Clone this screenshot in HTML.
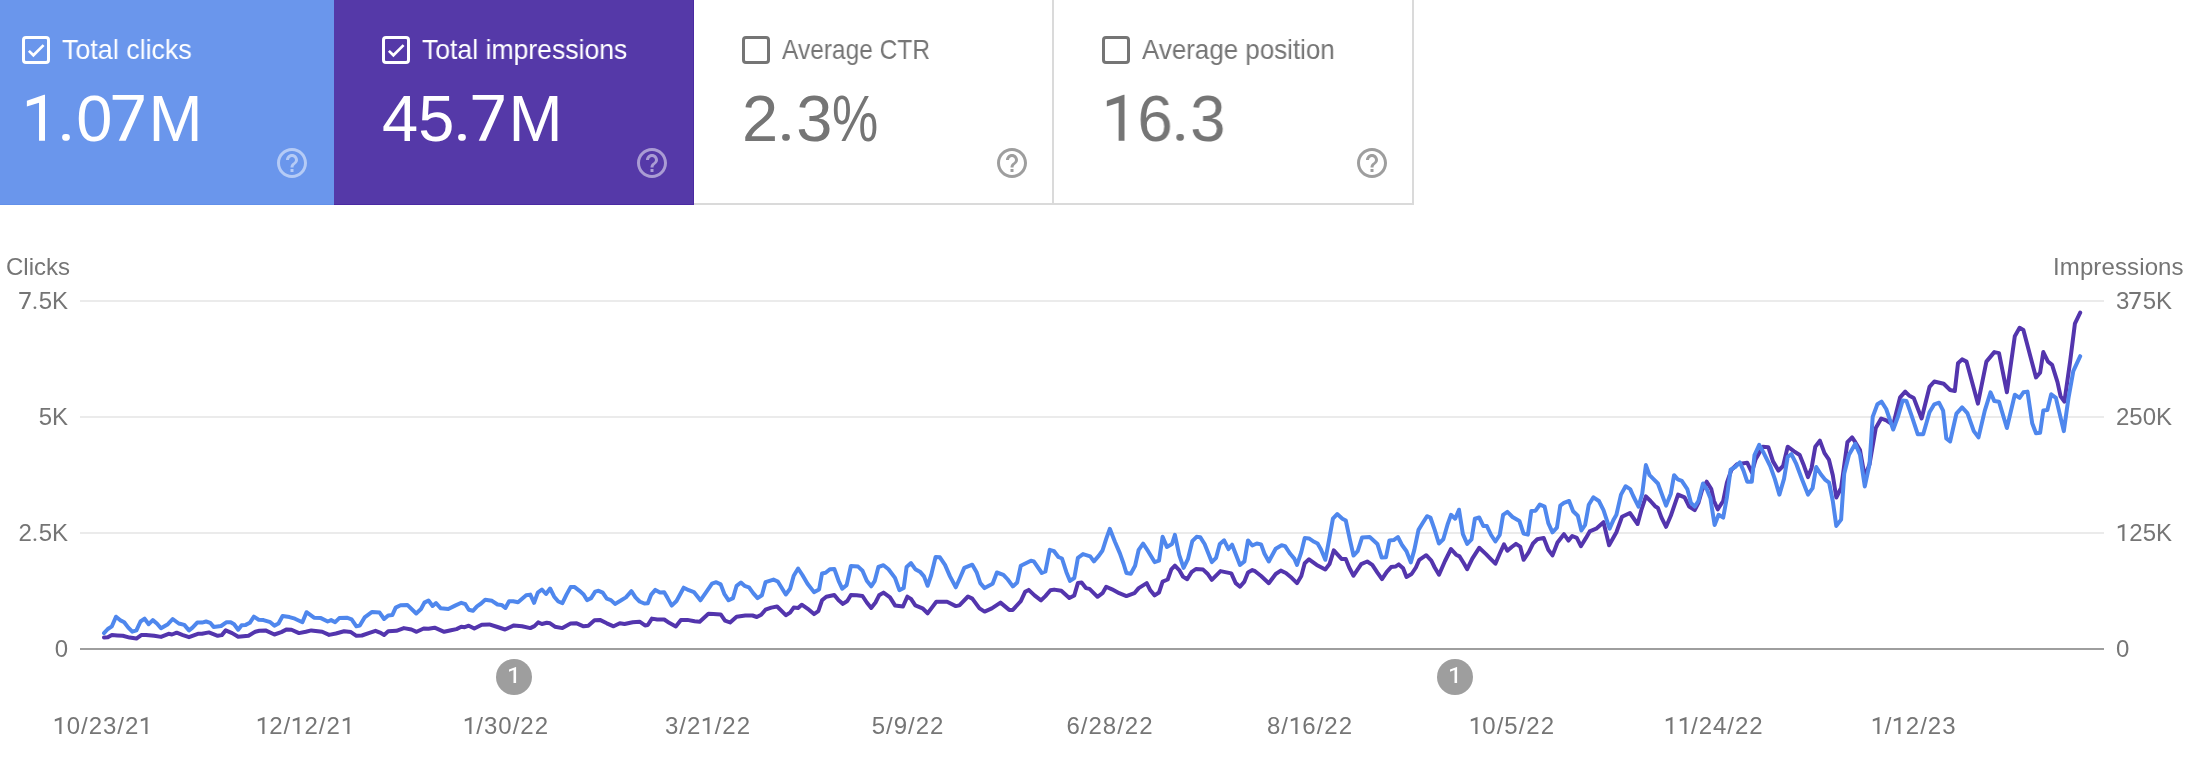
<!DOCTYPE html>
<html><head><meta charset="utf-8"><style>
html,body{margin:0;padding:0;background:#fff;width:2196px;height:760px;overflow:hidden;position:relative;font-family:"Liberation Sans",sans-serif;}
.card{position:absolute;top:0;width:360px;height:205px;box-sizing:border-box;}
.c1{background:#6a96ec;color:#fff;border-bottom:1px solid #6290ea;}
.c2{background:#5539a8;color:#fff;border-bottom:1px solid #4a2aa2;border-right:1px solid #4a2aa2;}
.c3,.c4{background:#fff;color:#757575;border-right:2px solid #dadada;border-bottom:2px solid #dadada;}
.cb{position:absolute;left:48px;top:36px;width:28px;height:28px;box-sizing:border-box;border:3px solid #fff;border-radius:4px;}
.c3 .cb,.c4 .cb{border-color:#757575;}
.tick{position:absolute;left:-3px;top:-3px;}
.lbl{position:absolute;left:88px;top:34px;font-size:28px;line-height:32px;white-space:nowrap;transform-origin:0 0;}
.val{position:absolute;left:48px;top:83.5px;font-size:65px;line-height:70px;white-space:nowrap;transform-origin:0 0;}
.help{position:absolute;left:300px;top:145px;}
.c1 .help,.c2 .help{fill:rgba(255,255,255,.5);}
.c3 .help,.c4 .help{fill:#9e9e9e;}
.t{position:absolute;color:#757575;font-size:24px;line-height:28px;white-space:nowrap;}
.yl{position:absolute;left:0;width:68px;text-align:right;color:#757575;font-size:24px;line-height:28px;}
.yr{position:absolute;left:2116px;color:#757575;font-size:24px;line-height:28px;}
.xl{position:absolute;top:712px;width:200px;text-align:center;letter-spacing:1px;color:#757575;font-size:24px;line-height:28px;}
.mk{position:absolute;width:36px;height:36px;border-radius:50%;background:#9e9e9e;color:#fff;font-size:20px;line-height:36px;text-align:center;}
div{will-change:transform;}
.one{width:0.556em;height:0.75em;fill:currentColor;vertical-align:baseline;}
.dot{width:0.278em;height:0.75em;fill:currentColor;vertical-align:baseline;}
.pct{display:inline-block;transform:scaleX(0.8);transform-origin:0 0;}
</style></head><body>
<div class="card c1" style="left:-26px">
<div class="cb"><svg class="tick" viewBox="0 0 28 28" width="28" height="28"><path d="M6.9 14.9 L11.4 19.3 L21.6 9.1" fill="none" stroke="#fff" stroke-width="2.7"/></svg></div>
<div class="lbl" style="transform:scaleX(0.959)">Total clicks</div>
<div class="val" style="transform:scaleX(0.998)"><svg class="one" viewBox="0 0 556 750"><path d="M75 133L340 44L354 44L354 750L262 750L262 164L75 224Z"/></svg><svg class="dot" viewBox="0 0 278 750"><rect x="64" y="645" width="118" height="105" rx="48"/></svg>0<svg class="one" viewBox="0 0 556 750"><path d="M10 45L488 45L488 124L210 750L104 750L393 121L10 121Z"/></svg>M</div>
<svg class="help" viewBox="0 0 24 24" width="36" height="36"><path d="M11 18h2v-2h-2v2zm1-16C6.48 2 2 6.48 2 12s4.48 10 10 10 10-4.48 10-10S17.52 2 12 2zm0 18c-4.41 0-8-3.59-8-8s3.59-8 8-8 8 3.59 8 8-3.59 8-8 8zm0-14c-2.21 0-4 1.79-4 4h2c0-1.1.9-2 2-2s2 .9 2 2c0 2-3 1.75-3 5h2c0-2.25 3-2.5 3-5 0-2.21-1.79-4-4-4z"/></svg>
</div><div class="card c2" style="left:334px">
<div class="cb"><svg class="tick" viewBox="0 0 28 28" width="28" height="28"><path d="M6.9 14.9 L11.4 19.3 L21.6 9.1" fill="none" stroke="#fff" stroke-width="2.7"/></svg></div>
<div class="lbl" style="transform:scaleX(0.949)">Total impressions</div>
<div class="val" style="transform:scaleX(0.999)">45<svg class="dot" viewBox="0 0 278 750"><rect x="64" y="645" width="118" height="105" rx="48"/></svg><svg class="one" viewBox="0 0 556 750"><path d="M10 45L488 45L488 124L210 750L104 750L393 121L10 121Z"/></svg>M</div>
<svg class="help" viewBox="0 0 24 24" width="36" height="36"><path d="M11 18h2v-2h-2v2zm1-16C6.48 2 2 6.48 2 12s4.48 10 10 10 10-4.48 10-10S17.52 2 12 2zm0 18c-4.41 0-8-3.59-8-8s3.59-8 8-8 8 3.59 8 8-3.59 8-8 8zm0-14c-2.21 0-4 1.79-4 4h2c0-1.1.9-2 2-2s2 .9 2 2c0 2-3 1.75-3 5h2c0-2.25 3-2.5 3-5 0-2.21-1.79-4-4-4z"/></svg>
</div><div class="card c3" style="left:694px">
<div class="cb"></div>
<div class="lbl" style="transform:scaleX(0.875)">Average CTR</div>
<div class="val" style="transform:scaleX(1)">2<svg class="dot" viewBox="0 0 278 750"><rect x="64" y="645" width="118" height="105" rx="48"/></svg>3<span class="pct">%</span></div>
<svg class="help" viewBox="0 0 24 24" width="36" height="36"><path d="M11 18h2v-2h-2v2zm1-16C6.48 2 2 6.48 2 12s4.48 10 10 10 10-4.48 10-10S17.52 2 12 2zm0 18c-4.41 0-8-3.59-8-8s3.59-8 8-8 8 3.59 8 8-3.59 8-8 8zm0-14c-2.21 0-4 1.79-4 4h2c0-1.1.9-2 2-2s2 .9 2 2c0 2-3 1.75-3 5h2c0-2.25 3-2.5 3-5 0-2.21-1.79-4-4-4z"/></svg>
</div><div class="card c4" style="left:1054px">
<div class="cb"></div>
<div class="lbl" style="transform:scaleX(0.926)">Average position</div>
<div class="val" style="transform:scaleX(0.977)"><svg class="one" viewBox="0 0 556 750"><path d="M75 133L340 44L354 44L354 750L262 750L262 164L75 224Z"/></svg>6<svg class="dot" viewBox="0 0 278 750"><rect x="64" y="645" width="118" height="105" rx="48"/></svg>3</div>
<svg class="help" viewBox="0 0 24 24" width="36" height="36"><path d="M11 18h2v-2h-2v2zm1-16C6.48 2 2 6.48 2 12s4.48 10 10 10 10-4.48 10-10S17.52 2 12 2zm0 18c-4.41 0-8-3.59-8-8s3.59-8 8-8 8 3.59 8 8-3.59 8-8 8zm0-14c-2.21 0-4 1.79-4 4h2c0-1.1.9-2 2-2s2 .9 2 2c0 2-3 1.75-3 5h2c0-2.25 3-2.5 3-5 0-2.21-1.79-4-4-4z"/></svg>
</div>
<div class="t" style="left:6px;top:253px">Clicks</div>
<div class="t" style="left:2052.5px;top:253px;letter-spacing:0.12px">Impressions</div>
<div class="yl" style="top:287px"><svg class="one" viewBox="0 0 556 750"><path d="M10 45L488 45L488 124L210 750L104 750L393 121L10 121Z"/></svg><svg class="dot" viewBox="0 0 278 750"><rect x="64" y="645" width="118" height="105" rx="48"/></svg>5K</div><div class="yr" style="top:287px">3<svg class="one" viewBox="0 0 556 750"><path d="M10 45L488 45L488 124L210 750L104 750L393 121L10 121Z"/></svg>5K</div>
<div class="yl" style="top:403px">5K</div><div class="yr" style="top:403px">250K</div>
<div class="yl" style="top:519px">2<svg class="dot" viewBox="0 0 278 750"><rect x="64" y="645" width="118" height="105" rx="48"/></svg>5K</div><div class="yr" style="top:519px"><svg class="one" viewBox="0 0 556 750"><path d="M75 133L340 44L354 44L354 750L262 750L262 164L75 224Z"/></svg>25K</div>
<div class="yl" style="top:635px">0</div><div class="yr" style="top:635px">0</div>

<div class="xl" style="left:3px"><svg class="one" viewBox="0 0 556 750"><path d="M75 133L340 44L354 44L354 750L262 750L262 164L75 224Z"/></svg>0/23/2<svg class="one" viewBox="0 0 556 750"><path d="M75 133L340 44L354 44L354 750L262 750L262 164L75 224Z"/></svg></div>
<div class="xl" style="left:205px"><svg class="one" viewBox="0 0 556 750"><path d="M75 133L340 44L354 44L354 750L262 750L262 164L75 224Z"/></svg>2/<svg class="one" viewBox="0 0 556 750"><path d="M75 133L340 44L354 44L354 750L262 750L262 164L75 224Z"/></svg>2/2<svg class="one" viewBox="0 0 556 750"><path d="M75 133L340 44L354 44L354 750L262 750L262 164L75 224Z"/></svg></div>
<div class="xl" style="left:406px"><svg class="one" viewBox="0 0 556 750"><path d="M75 133L340 44L354 44L354 750L262 750L262 164L75 224Z"/></svg>/30/22</div>
<div class="xl" style="left:608px">3/2<svg class="one" viewBox="0 0 556 750"><path d="M75 133L340 44L354 44L354 750L262 750L262 164L75 224Z"/></svg>/22</div>
<div class="xl" style="left:808px">5/9/22</div>
<div class="xl" style="left:1010px">6/28/22</div>
<div class="xl" style="left:1210px">8/<svg class="one" viewBox="0 0 556 750"><path d="M75 133L340 44L354 44L354 750L262 750L262 164L75 224Z"/></svg>6/22</div>
<div class="xl" style="left:1412px"><svg class="one" viewBox="0 0 556 750"><path d="M75 133L340 44L354 44L354 750L262 750L262 164L75 224Z"/></svg>0/5/22</div>
<div class="xl" style="left:1614px"><svg class="one" viewBox="0 0 556 750"><path d="M75 133L340 44L354 44L354 750L262 750L262 164L75 224Z"/></svg><svg class="one" viewBox="0 0 556 750"><path d="M75 133L340 44L354 44L354 750L262 750L262 164L75 224Z"/></svg>/24/22</div>
<div class="xl" style="left:1814px"><svg class="one" viewBox="0 0 556 750"><path d="M75 133L340 44L354 44L354 750L262 750L262 164L75 224Z"/></svg>/<svg class="one" viewBox="0 0 556 750"><path d="M75 133L340 44L354 44L354 750L262 750L262 164L75 224Z"/></svg>2/23</div>

<svg width="2196" height="760" style="position:absolute;left:0;top:0">
<g stroke="#ebebeb" stroke-width="2">
<line x1="80" y1="301" x2="2104" y2="301"/><line x1="80" y1="417" x2="2104" y2="417"/><line x1="80" y1="533" x2="2104" y2="533"/>
</g>
<line x1="80" y1="649" x2="2104" y2="649" stroke="#9e9e9e" stroke-width="2"/>
<path d="M104 637.4 L107.8 637.2 L111.9 634.9 L117.3 635.4 L122.8 635.8 L129.6 637.6 L136.4 638.6 L141.2 635.1 L146 634.9 L154.2 635.8 L161 636.9 L168.6 633.8 L172 634.5 L176.7 632.7 L182.9 635.1 L189 637.2 L197.9 633.8 L202 633.8 L208.9 632.4 L217.7 635.8 L221.8 635.1 L225.7 630.4 L232.1 633.1 L238.2 636.8 L248.5 635.8 L255.3 631.7 L259.4 630.8 L265.5 630.4 L274.4 634.5 L281.3 632.1 L286.7 629.4 L291.5 629.7 L299 633.1 L305.8 631.7 L311.3 630.4 L322.2 631.7 L329.1 634.9 L335.9 633.5 L344.1 631.3 L350.9 632.1 L356.4 635.8 L361.9 635.5 L368.7 633.1 L375.5 630.8 L380 632.6 L384.1 634.9 L388.2 631.3 L396.4 630.8 L403.9 628.1 L411.4 629.5 L416.6 631.8 L423.7 628.5 L428.5 628.8 L434.6 627.7 L444.2 631.8 L451 630.2 L456.5 629.1 L461.3 626.7 L464.7 627.2 L468.8 625.7 L474.3 628.5 L481.8 624.7 L489.3 624.4 L497.5 627 L505 629.5 L513.9 625.4 L522.1 626.3 L530.3 628.1 L534.4 626.1 L538.2 622.4 L541.9 624 L546.7 622.7 L550.1 623.3 L554.9 626.7 L562.4 628.1 L570.6 623.6 L576.7 623.3 L583.6 626.3 L588.3 625.8 L594.5 620.3 L599.9 619.9 L606.8 623.3 L613.6 626.3 L619.8 623.3 L624.5 624 L632.7 622.2 L639.6 621.7 L645 625.4 L647.8 625 L651.9 618.6 L657.3 619.5 L664.2 619.5 L669.6 623.1 L675.8 626.4 L680.9 620.1 L687.4 619.9 L694.6 621.3 L699.7 621.7 L708.4 613.8 L713.4 614.1 L720.7 614.4 L725 620.6 L730.1 622.5 L736.6 616.7 L745.3 615.5 L752.5 615.5 L756.8 617 L761.2 614.8 L765.5 609.7 L771.3 607.6 L777.1 606.5 L785.8 615.2 L790.1 612.6 L793.7 607.6 L798.1 608 L801.7 604.7 L808.9 609.7 L814 614.1 L818.3 611.2 L822 600.3 L826.3 596.7 L834.3 595 L838.6 600.3 L842.9 603.9 L847.3 601 L850.9 595 L856.7 595.3 L862.5 596 L866.8 602.5 L871.2 608 L875.5 602.5 L879.1 595.3 L883.5 592.6 L890 597.4 L895 605.4 L903 606.5 L907.3 596.7 L911 598.9 L915.3 605.4 L922.5 608.3 L927.6 613.3 L931.9 607.6 L936.3 601.8 L947.1 601.8 L955.8 606.1 L959.4 605.4 L968 596.5 L972.3 598.6 L979.5 608.4 L984.6 611.6 L991.8 608.4 L1000.5 602.6 L1009.2 609.9 L1012.8 609.9 L1020.8 601.2 L1025.1 591.8 L1028.7 589.9 L1034.5 595.4 L1041 600.4 L1045.4 596.1 L1050.4 590.3 L1054.1 589.6 L1061.3 590.8 L1069.3 598 L1074.3 595.4 L1077.9 583.1 L1081.6 582.6 L1085.9 588.1 L1089.5 588.9 L1097.5 596.8 L1102.5 593.2 L1106.2 586.7 L1112 589.3 L1119.2 593.2 L1126.4 596.1 L1134.4 593.2 L1138.7 588.1 L1146.7 583.1 L1150.3 590.3 L1154.6 595.4 L1159 592.5 L1162.6 581.6 L1167.7 579.5 L1171.3 569.3 L1174.9 565.7 L1179.2 570.1 L1182.9 576.6 L1187.2 579.2 L1191.5 572.2 L1195.9 569 L1203.1 569.6 L1207.5 573.7 L1211.8 579.8 L1220.5 571.1 L1231.3 573.4 L1235.7 583.1 L1240 586.7 L1244.4 581.6 L1248 572.5 L1252.3 570.1 L1255.1 571.2 L1261.1 576 L1268.8 583.2 L1275.7 574 L1280.8 570.6 L1285.9 573 L1291.9 578.1 L1297 583.2 L1301.3 576 L1304.7 563.2 L1309 559.3 L1316.7 564.9 L1325.3 569.5 L1329.5 564.1 L1333.8 550.4 L1341.5 558.9 L1345.8 558.9 L1349.2 567.5 L1353.5 575.7 L1361.2 564.1 L1367.2 561.5 L1372.3 564.9 L1377.4 572.6 L1382 579.1 L1386.8 571.8 L1391.1 567.1 L1395.4 566.6 L1398.8 564.4 L1403.1 568.3 L1406.5 576.9 L1411.6 574 L1415.9 567.5 L1419.3 559.8 L1426.2 555.2 L1431.3 560.6 L1434.7 567.5 L1439 574.7 L1445 561 L1451 549 L1456.1 554.7 L1459.5 556.4 L1463.8 563.2 L1467.2 569.2 L1472.3 558.6 L1479.2 547.8 L1486 554.1 L1491.1 559.3 L1495.4 563.7 L1499.7 553.8 L1504 544.4 L1507.4 550.7 L1511.7 547 L1516 543.9 L1520.2 546.6 L1523.6 559.8 L1528.8 552.1 L1533 543.5 L1537.3 539.3 L1543.7 537.9 L1548.3 549.8 L1552.5 555.4 L1557.5 542.5 L1563.9 534.2 L1568.5 540.6 L1572.2 536 L1576.8 537.9 L1580.9 546.2 L1586 537.9 L1589.7 531.4 L1596.2 528.7 L1603.5 522.2 L1609.1 545.2 L1616.4 532.3 L1622 516.7 L1629.9 513 L1637.6 524 L1641.3 510.2 L1645.9 496.4 L1650.5 501 L1655.1 506.2 L1657.9 508 L1661.5 517.6 L1666.1 526.8 L1670.8 515.8 L1678.1 494.6 L1684.6 497.3 L1689.2 506.6 L1694.7 510.2 L1698.4 502.9 L1702.1 490 L1706.7 481.7 L1711.3 489.1 L1714 501 L1717.7 509.3 L1723.2 501 L1726.9 482.6 L1731.5 469.7 L1737.1 464.2 L1747.2 462.7 L1751.8 472.5 L1755.5 459.6 L1762.8 446.7 L1768.4 447.3 L1773 461.4 L1778.5 470.6 L1783.1 466 L1787.7 446.7 L1794.1 451.3 L1799.7 455 L1803.4 464.2 L1808 477.1 L1811.6 467.9 L1815.3 446.7 L1819.9 440.6 L1824.5 453.1 L1828.9 459.6 L1832.8 475.2 L1836.3 497.5 L1841.1 488 L1847.4 442.2 L1852.1 437.4 L1855.3 442.2 L1860 450.1 L1864.8 476.9 L1869.5 464.3 L1875.8 428 L1881.2 418.5 L1886.9 420.7 L1893.2 424.8 L1900.1 397.3 L1905.2 391.6 L1909 395.4 L1913.7 397.9 L1921.6 418.5 L1929.5 386.9 L1934.3 381.5 L1943.7 383.7 L1950.1 390 L1954.8 391 L1958 363.2 L1962.1 359.4 L1966.5 361.6 L1977.9 403.6 L1986.4 361.6 L1994.3 352.1 L1999 353.1 L2006.9 392.3 L2014.8 336.3 L2019.6 327.8 L2023.4 330 L2032.2 363.2 L2036 377.4 L2040.1 372.7 L2043.3 352.1 L2048 361.6 L2052.1 364.8 L2057.5 382.1 L2060.6 396.4 L2064.4 401.7 L2070.1 361.6 L2074.9 323.7 L2080.2 312.6" fill="none" stroke="#5335ad" stroke-width="4" stroke-linejoin="round" stroke-linecap="round"/>
<path d="M104 633.1 L107.8 629 L111.9 626.3 L116 616.7 L120 620.1 L124.2 622.2 L128.3 627.6 L132.3 631.7 L136.4 630.4 L140.5 621.5 L144.6 618.7 L148.7 624.2 L152.8 620.1 L156.9 623.5 L161 628.3 L167.9 624.2 L172.7 619 L178.8 623.5 L184.3 624.9 L189 630.4 L192.5 627.6 L197.2 622.6 L202 622.6 L206.1 621.5 L210.2 622.8 L213.6 626.9 L221.1 626 L226.6 622.2 L230.7 622.2 L234.1 624.2 L238.2 629.7 L241.6 625.3 L245.7 624.9 L249.8 622.8 L253.9 616.7 L258.7 619.7 L263.5 620.1 L270.3 622.2 L274.4 625.6 L278.5 623.5 L282.6 616 L289.5 617.1 L294.9 618.7 L302.4 622.2 L306.5 612.2 L314 617.7 L320.9 618.1 L327.7 621.5 L331.1 620.1 L335.2 622.2 L339.3 618.1 L346.8 617.7 L351.6 619.4 L356.4 626.3 L359.8 625.6 L364.6 617.4 L372.1 611.9 L379.6 612.6 L384.1 619 L388.2 615.4 L392.3 615.1 L395.7 607.6 L400.5 605.3 L407.3 604.9 L416.2 613.5 L421 609 L424.4 602.6 L428.5 600.5 L432.6 606 L436 603.1 L440.8 608.3 L448.3 609 L455.1 605.6 L461.3 602.8 L465.4 604.2 L468.8 609.7 L472.9 610.8 L477 606.3 L481.1 603.5 L485.2 599.8 L492 600.8 L497.5 604.5 L501.6 604.9 L505.4 608 L509.1 601.2 L513.2 601.2 L518 602.2 L522.1 598.7 L526.2 595.3 L530.3 594.6 L534.1 602.8 L537.8 592.6 L541.9 589.5 L546 594 L550.1 588.5 L554.2 596.7 L558.3 601.5 L562.4 603.1 L566.5 594.6 L570.6 587.1 L574.7 587.1 L579.5 590.8 L583.6 594.4 L587 600.1 L591.1 598.1 L595.2 591.6 L598.6 590.8 L602.7 592.6 L606.8 598.7 L610.9 600.1 L615 603.9 L620.4 600.8 L625.9 597.4 L631.4 591.2 L635.5 597.4 L639.6 601.5 L644.3 603.5 L647.8 603.3 L651.2 594.6 L655.3 589.9 L660 592.6 L664.2 592.2 L667.6 598.1 L671.7 605.6 L676.5 601 L683.7 587.7 L688.8 590.2 L693.9 592.1 L700.4 600.3 L705.5 593.1 L712 583.7 L716.3 582.2 L720.7 584.4 L724.3 593.8 L728.6 600.3 L733 598.1 L736.6 585.8 L740.9 582.5 L744.5 585.8 L748.9 587.3 L753.2 593.1 L757.6 598.1 L761.9 595.3 L765.5 582.2 L773.5 579.6 L777.8 581.5 L785.8 594.5 L790.1 588.7 L793.7 575.7 L798.1 568.5 L802.4 575 L807.5 583.7 L814 592.1 L819.1 589.5 L822 573.5 L825.6 572.8 L829.9 569.2 L834.3 568.9 L838.6 580.8 L842.2 588.7 L846.6 585.1 L850.9 566 L858.1 566.6 L862.5 570.7 L866.8 580.8 L871.2 586.3 L874.8 580.8 L878.4 567 L883.5 565.2 L888.5 569.2 L895 577.9 L899.4 590.2 L903.7 588 L906.6 567 L911 563.1 L915.3 569.2 L920.4 572.1 L924 576.4 L927.6 585.8 L931.2 575 L935.6 556.9 L939.9 557.3 L945 564.9 L950 576.4 L955.8 587.3 L959.4 579.3 L964.3 567.9 L972.3 564.7 L976.6 572.2 L980.3 583.1 L984.6 588.1 L992.6 583.8 L996.9 572.5 L1003.4 574.8 L1007.8 579.5 L1012.8 586.4 L1017.2 582.4 L1020.8 565.7 L1030.9 560.7 L1033.8 561.4 L1041.8 573 L1045.4 571.5 L1049.7 549.8 L1054.1 551.2 L1058.4 557 L1062 558.5 L1066.4 572.2 L1070 580.9 L1074.3 578 L1077.9 557.8 L1083 554.1 L1090.2 556.3 L1093.9 561.4 L1098.9 555.6 L1102.5 550.5 L1106.2 538.9 L1109.8 528.8 L1114.9 541.8 L1119.9 553.4 L1123.5 563.5 L1126.4 573 L1130.8 573.7 L1135.1 565.7 L1138.7 549.8 L1143.1 543.6 L1148.1 551.2 L1154.6 562.1 L1159 560.7 L1162.6 536.8 L1166.9 546.9 L1172 544 L1174.9 534.9 L1179.2 554.9 L1183.6 567.9 L1187.9 559.2 L1192.3 541.1 L1196.6 536.8 L1200.2 537.2 L1204.6 544 L1211.8 562.1 L1216.1 557.8 L1219.8 544 L1224.1 540.4 L1228.5 549.1 L1232.1 544.7 L1240 565 L1244.4 561.4 L1248 540.4 L1252.3 545.5 L1256.8 543.5 L1261.1 544.4 L1264.5 553.8 L1268.8 561.5 L1275.7 548.7 L1281.6 545.3 L1285.1 546.1 L1290.2 553.8 L1294.5 558.9 L1297 564.9 L1301.3 552.1 L1304.7 538.1 L1309 538.4 L1314.1 541.8 L1317.6 543.5 L1321 549.5 L1325.3 559.8 L1328.7 541.8 L1332.9 518.7 L1337.2 514.1 L1342.4 518.7 L1345.8 520.5 L1350 540.1 L1353.5 555.5 L1357.7 551.2 L1362 537.6 L1369.7 537 L1377.4 543.9 L1381.7 557.6 L1386 557.2 L1389.4 540.5 L1393.7 540.1 L1397.9 537 L1402.2 545.3 L1406.5 551.2 L1410.8 562.4 L1414.2 550.4 L1418.5 529.9 L1422.7 523 L1427 516.2 L1430.4 517.5 L1434.7 529.9 L1438.9 543.5 L1443.3 539.3 L1447.5 524.7 L1451 514.8 L1455.2 518.7 L1459 509.7 L1462.9 534.1 L1467.2 543.9 L1471.5 539.3 L1474.9 518.7 L1479.2 517.5 L1483.4 526.1 L1486.9 526.1 L1491.1 535 L1495.4 541.5 L1499.7 535 L1503.1 514.8 L1507.4 511.9 L1512.5 517 L1519.4 521 L1523.6 533.6 L1527.9 534.6 L1531.3 511 L1535.6 510.7 L1539.9 504.5 L1544.6 506.6 L1548.3 523.1 L1552.5 532.3 L1556.9 527.7 L1560.3 505.6 L1563.9 502.9 L1569.1 501 L1573.1 511.2 L1577.8 515.8 L1581.4 530.5 L1585.1 525 L1588.8 504.7 L1593.4 497.3 L1598.9 501 L1603.5 510.2 L1609.6 528.7 L1613.7 519.4 L1616.4 514.8 L1621 494.6 L1625.6 486.3 L1630.2 489.1 L1633 495.5 L1638.5 506.6 L1642.2 493.7 L1645.9 465.1 L1649.6 475.2 L1653.3 478.9 L1657.9 483.5 L1666.1 505.6 L1670.8 493.7 L1674.1 475.2 L1677.8 479.3 L1681.8 480.8 L1687.3 489.1 L1691 502.9 L1694.7 506.6 L1698.4 501 L1703 483.5 L1706.7 489.1 L1710.4 498.3 L1714.6 525 L1718.6 514.8 L1723.2 517.6 L1726.9 497.3 L1730.6 469.7 L1735.2 467 L1739.8 462.4 L1743.5 470.6 L1747.2 481.7 L1751.8 481.7 L1754.5 455 L1759.2 444.9 L1763.8 453.1 L1770.2 466 L1774.8 478.9 L1779.4 494.6 L1784 478.9 L1787.7 456.8 L1791.4 454.1 L1796 463.3 L1801.5 478 L1808 494.6 L1812.6 488.1 L1816.2 467 L1820.8 474.3 L1825.4 479.9 L1829.1 482.6 L1832.8 501 L1836.3 525.9 L1841.1 519.6 L1844.2 473.8 L1849 454.8 L1855.3 443.8 L1860 454.8 L1864.8 486.4 L1869.5 464.3 L1872.7 416.9 L1877.4 404.3 L1881.5 401.7 L1886.2 409 L1893.2 429.5 L1897.9 416.9 L1902.7 400.5 L1906.5 401.1 L1911.5 415.3 L1917.8 434.3 L1923.2 434.3 L1929.5 412.2 L1934.3 404.3 L1939 402.7 L1943.1 410.6 L1946.3 438.4 L1950.1 441.5 L1956.4 413.7 L1962.1 407.4 L1967.4 413.1 L1973.8 431.1 L1978.5 437.4 L1984.8 410.6 L1990.5 392.3 L1994.3 401.1 L1999 401.7 L2006.9 428 L2014.8 394.8 L2019.6 397.9 L2023.4 392.3 L2027.5 391.6 L2032.2 423.2 L2036 433.3 L2040.1 432.7 L2043.3 410.6 L2047.4 410 L2051.2 394.2 L2055.9 397.9 L2063.8 431.1 L2068.5 397.9 L2073.3 371.1 L2080.2 356.2" fill="none" stroke="#4f87ed" stroke-width="4" stroke-linejoin="round" stroke-linecap="round"/>
</svg>
<svg width="2196" height="760" style="position:absolute;left:0;top:0">
<g transform="translate(514,677)"><circle r="18" fill="#9e9e9e"/><polygon fill="#fff" points="2.1,-10 2.1,6.1 -0.5,6.1 -0.5,-6.9 -5,-5.3 -5,-7.4 1.8,-10"/></g>
<g transform="translate(1455,677)"><circle r="18" fill="#9e9e9e"/><polygon fill="#fff" points="2.1,-10 2.1,6.1 -0.5,6.1 -0.5,-6.9 -5,-5.3 -5,-7.4 1.8,-10"/></g>
</svg>
</body></html>
